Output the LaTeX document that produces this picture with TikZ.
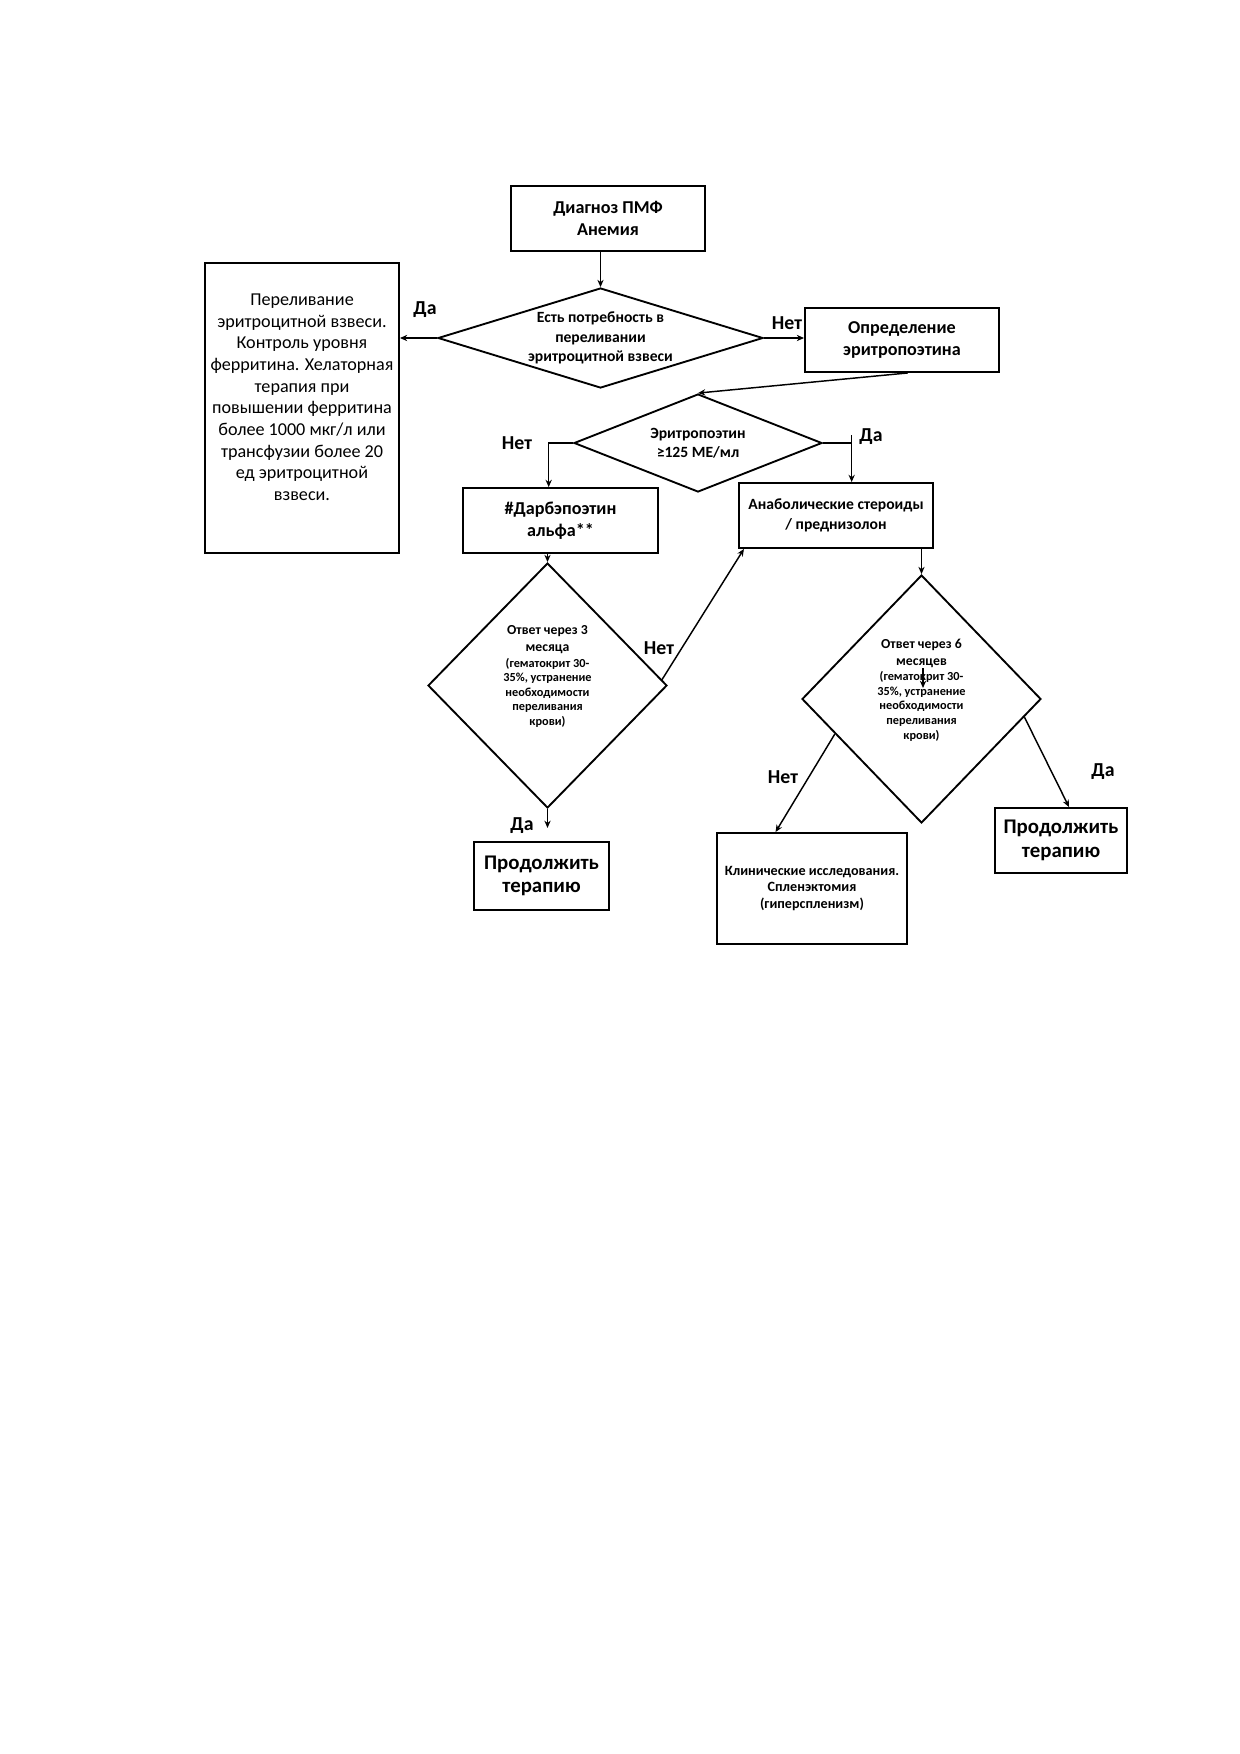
\documentclass[tikz,border=0pt]{standalone}
\usepackage{fontspec}
\setmainfont{Carlito}
\usepackage{tikz}
\usetikzlibrary{shapes.geometric}
\usetikzlibrary{arrows.meta}
\usetikzlibrary{calc}
\tikzstyle{box}=[rectangle,draw,line width=0.9pt,align=center,inner sep=1pt]
\tikzstyle{decision}=[diamond,draw,line width=0.9pt,align=flush center,inner sep=0pt]
\tikzstyle{flow} = [draw,line width=0.7pt,-{Stealth[length=3.5pt,width=3pt]}]
\tikzstyle{flowline} = [draw,line width=0.7pt]
\tikzstyle{answer} = [font=\bfseries\fontsize{9.5}{11}\selectfont]
\tikzset{bigtxt/.style={font=\bfseries\fontsize{8.7}{10.4}\selectfont}}
\tikzset{smalltxt/.style={font=\bfseries\fontsize{7.5}{9.3}\selectfont}}

\begin{document}
\begin{tikzpicture}[x=0.48pt,y=-0.48pt]

 \useasboundingbox (0,0) rectangle (1240,1754);

 %boxes
 \foreach \x/\y/\w/\h/\name/\st/\txt in {
      608/218.5/194/65/diag/bigtxt/{Диагноз ПМФ\\Анемия},
      902/340/194/64/opred/bigtxt/{Определение\\эритропоэтина},
      560.5/520.5/195/65/darb/bigtxt/{\#Дарбэпоэтин\\альфа**},
      836/515.5/194/65/anab/smalltxt/{Анаболические стероиды\\/ преднизолон}}
   \node[box,\st,minimum width=\w*0.48pt,minimum height=\h*0.48pt] (\name) at (\x,\y) {\txt};

 \node[box,align=flush center,text width=186*0.48pt,font=\fontsize{8.7}{10.4}\selectfont,
       minimum width=194*0.48pt,minimum height=290*0.48pt] (perel) at (302,408)
   {Переливание\\эритроцитной взвеси.\\Контроль уровня\\ферритина. Хелаторная\\терапия при\\повышении ферритина\\более 1000 мкг/л или\\трансфузии более 20\\ед эритроцитной\\взвеси.\endgraf\hbox{}};

 \node[box,font=\bfseries\fontsize{6.8}{8}\selectfont,minimum width=190*0.48pt,minimum height=111*0.48pt] (clin) at (812,888.5)
   {Клинические исследования.\\Спленэктомия\\(гиперспленизм)};

 \foreach \x/\y/\w/\h/\name in {541.5/876/135/68/cont1, 1061/840.5/132/65/cont2}
   \node[box,font=\bfseries\fontsize{10}{11.2}\selectfont,minimum width=\w*0.48pt,minimum height=\h*0.48pt] (\name) at (\x,\y) {Продолжить\\терапию};

 %decisions
 \node[decision,smalltxt,aspect=3.25,minimum width=325*0.48pt,minimum height=100*0.48pt] (d1) at (600.5,338)
   {Есть потребность в\\переливании\\эритроцитной взвеси};
 \node[decision,smalltxt,aspect=2.5,minimum width=248*0.48pt,minimum height=98*0.48pt] (d2) at (698,443)
   {Эритропоэтин\\≥125 МЕ/мл};

 \foreach \x/\y/\h/\name/\n/\m in {547.5/685.5/245/d3/3/месяца, 921.5/699/248/d4/6/месяцев}
   \node[decision,text width=50pt,minimum width=239*0.48pt,minimum height=\h*0.48pt,
         font=\bfseries\fontsize{6.6}{8}\selectfont] (\name) at (\x,\y)
   {Ответ через \n\\\m\\[0.5pt]\fontsize{5.9}{7}\selectfont (гематокрит 30-\\35\%, устранение\\необходимости\\переливания\\крови)\endgraf\kern 2.5pt\hbox{}};

 %answers
 \foreach \x/\y/\name/\label in {425/310/yes1/Да, 787/323/no1/Нет, 517/443/no2/Нет, 871/437/yes2/Да,
                                 659/648/no3/Нет, 522/826/yes3/Да, 783/777/no4/Нет, 1103/772/yes4/Да}
   \node[answer] (\name) at (\x,\y) {\label};

 %connectors
 \coordinate (darbin) at ($(darb.north west)!0.44!(darb.north east)$);
 \coordinate (anabin) at ($(anab.north west)!0.58!(anab.north east)$);
 \coordinate (tick) at ($(anabin)+(0,-47)$);
 \coordinate (yes3end) at ($(d3.south)+(0,19)$);
 \coordinate (stray1) at (923,668);
 \coordinate (stray2) at (923,688);

 \path[flow] (diag.south -| d1.north) -- (d1.north);
 \path[flow] (d1.west) -- (d1.west -| perel.east);
 \path[flow] (d1.east) -- (d1.east -| opred.west);
 \path[flow] ($(opred.south west)!0.53!(opred.south east)$) -- (d2.north);
 \path[flow] (d2.west) -| (darbin);
 \path[flowline] (d2.east) -- (d2.east -| tick);
 \path[flow] (tick) -- (anabin);
 \path[flow] (d3.north |- darb.south) -- (d3.north);
 \path[flow] (d3.south) -- (yes3end);
 \path[flow] (d3.3) -- ($(anab.south west)!0.03!(anab.south east)$);
 \path[flow] (d4.north |- anab.south) -- (d4.north);
 \path[flow] (d4.202) -- ($(clin.north west)!0.31!(clin.north east)$);
 \path[flow] (d4.-10) -- ($(cont2.north west)!0.56!(cont2.north east)$);
 \path[flow] (stray1) -- (stray2);

\end{tikzpicture}
\end{document}
